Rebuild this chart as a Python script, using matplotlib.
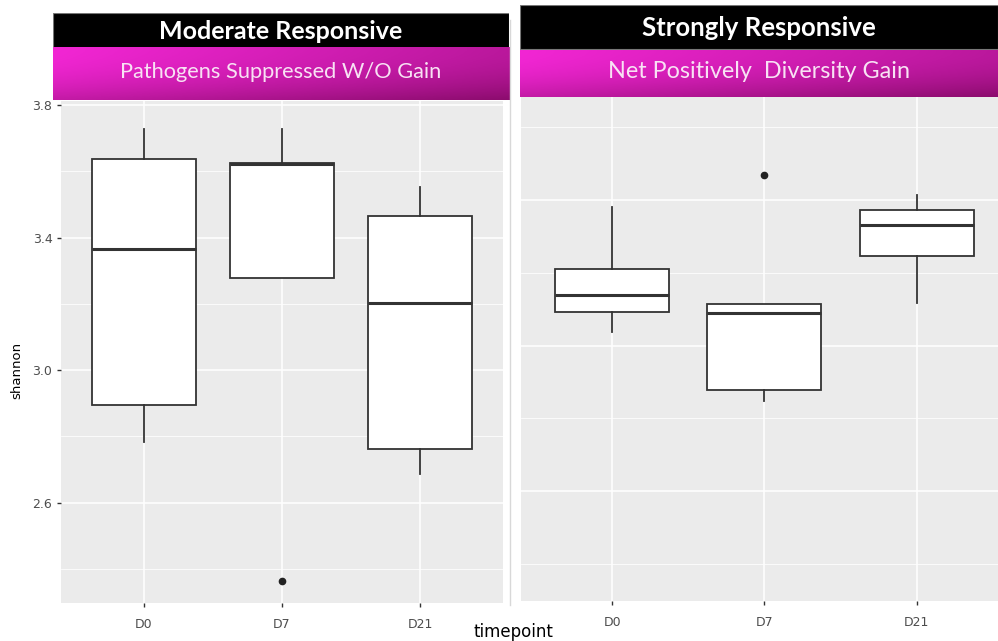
import numpy as np
import matplotlib.pyplot as plt
from matplotlib.patches import Rectangle

# dados (shannon)
grupos = ['D0', 'D7', 'D21']

# Moderate Responsive
mod_whislo = [2.784, 3.279, 2.687]
mod_q1 = [2.895, 3.279, 2.762]
mod_med = [3.365, 3.622, 3.204]
mod_q3 = [3.637, 3.626, 3.465]
mod_whishi = [3.728, 3.728, 3.552]
mod_outliers = [[], [2.365], []]

# Strongly Responsive
str_whislo = [3.419, 3.324, 3.458]
str_q1 = [3.446, 3.339, 3.523]
str_med = [3.470, 3.444, 3.566]
str_q3 = [3.505, 3.457, 3.586]
str_whishi = [3.590, 3.457, 3.607]
str_outliers = [[], [3.634], []]

W, H = 998, 641
fig = plt.figure(figsize=(W / 100, H / 100), dpi=100)


def rect_px(x0, y0, x1, y1):
    # pixels (origem no topo) -> fracao da figura
    return [x0 / W, 1 - y1 / H, (x1 - x0) / W, (y1 - y0) / H]


def painel(rect, xlim, ylim, major, minor, low, q1, med, q3, high, outliers, mostrar_y):
    ax = fig.add_axes(rect)
    ax.set_facecolor('#EBEBEB')
    stats = []
    for i in range(len(grupos)):
        stats.append(dict(whislo=low[i], q1=q1[i], med=med[i], q3=q3[i],
                          whishi=high[i], fliers=outliers[i]))
    ax.bxp(stats, positions=[1, 2, 3], widths=0.75, patch_artist=True, showcaps=False,
           boxprops=dict(facecolor='white', edgecolor='#333333', linewidth=1.3),
           whiskerprops=dict(color='#333333', linewidth=1.3),
           medianprops=dict(color='#333333', linewidth=2.2),
           flierprops=dict(marker='o', markerfacecolor='#222222',
                           markeredgecolor='#222222', markersize=4.5))
    ax.set_xlim(xlim)
    ax.set_ylim(ylim)
    ax.set_xticks([1, 2, 3])
    ax.set_xticklabels(grupos)
    ax.set_yticks(major)
    ax.set_yticks(minor, minor=True)
    ax.grid(which='major', color='white', linewidth=1.1)
    ax.grid(which='minor', axis='y', color='white', linewidth=0.55)
    ax.set_axisbelow(True)
    for s in ax.spines.values():
        s.set_visible(False)
    ax.tick_params(which='major', length=3, width=1, color='#333333',
                   labelcolor='#4D4D4D', labelsize=9)
    ax.tick_params(axis='x', pad=8)
    ax.tick_params(axis='y', pad=3)
    ax.tick_params(which='minor', length=0)
    if not mostrar_y:
        ax.tick_params(axis='y', length=0, labelleft=False)
    return ax


# painel esquerdo
ax1 = painel(rect_px(60.7, 101, 503.3, 602.7), (0.4, 3.6), (2.2985, 3.812),
             [2.6, 3.0, 3.4, 3.8], [2.4, 2.8, 3.2, 3.6],
             mod_whislo, mod_q1, mod_med, mod_q3, mod_whishi, mod_outliers, True)
ax1.set_yticklabels(['2.6', '3.0', '3.4', '3.8'])

# painel direito (cortado na borda direita)
ax2 = painel(rect_px(520.7, 97.3, 998, 601), (0.4, 3.534), (3.049, 3.741),
             [3.2, 3.4, 3.6], [3.1, 3.3, 3.5, 3.7],
             str_whislo, str_q1, str_med, str_q3, str_whishi, str_outliers, False)

# linha fina entre os paineis
fig.add_artist(plt.Line2D([509.5 / W, 509.5 / W], [1 - 20 / H, 1 - 605 / H],
                          color='#d8d8d8', linewidth=1))

# gradiente magenta
claro = np.array([242, 38, 212]) / 255
escuro = np.array([140, 12, 110]) / 255


def cabecalho(x0, x1, yb0, yb1, ym0, ym1, titulo, subtitulo, tam_t, tam_s):
    hx = fig.add_axes(rect_px(x0, yb0, x1, ym1))
    hx.set_xlim(x0, x1)
    hx.set_ylim(ym1, yb0)
    hx.axis('off')
    hx.add_patch(Rectangle((x0, yb0), x1 - x0, yb1 - yb0, facecolor='black',
                           edgecolor='#777777', linewidth=0.8))
    s = np.linspace(0, 1, 200)[None, :]
    t = np.linspace(0, 1, 40)[:, None]
    w = np.clip(0.55 * s + 0.45 * t ** 2, 0, 1)
    img = claro[None, None, :] * (1 - w[..., None]) + escuro[None, None, :] * w[..., None]
    hx.imshow(img, extent=(x0, x1, ym1, ym0), aspect='auto', zorder=1)
    hx.text((x0 + x1) / 2, (yb0 + yb1) / 2 + 1, titulo, color='white', fontsize=tam_t,
            fontweight='bold', family='Lato', ha='center', va='center', zorder=3)
    hx.text((x0 + x1) / 2, (ym0 + ym1) / 2 - 2, subtitulo, color='#f8e2f4', fontsize=tam_s,
            family='Lato', ha='center', va='center', zorder=3)


cabecalho(52.7, 509.3, 13.3, 47.7, 47.7, 100.5,
          'Moderate Responsive', 'Pathogens Suppressed W/O Gain', 18, 15.7)
cabecalho(520, 998, 5, 49, 50.7, 97.3,
          'Strongly Responsive', 'Net Positively  Diversity Gain', 18.5, 16.8)

# rotulos dos eixos
fig.text(17 / W, 1 - 370 / H, 'shannon', rotation=90, ha='center', va='center',
         fontsize=9.5, color='black')
fig.text(513 / W, 1 - 632 / H, 'timepoint', ha='center', va='center',
         fontsize=12, color='black')

plt.savefig('out.png', dpi=100)
